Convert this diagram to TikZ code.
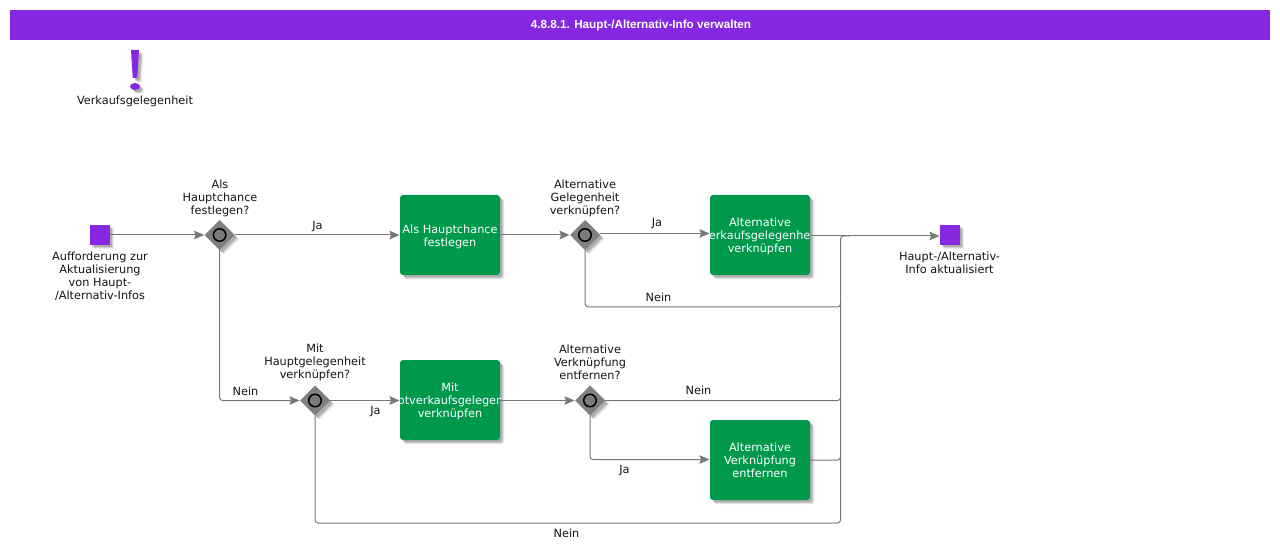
\documentclass[tikz,border=0pt]{standalone}
\usepackage{fontspec}
\setmainfont{DejaVu Sans}
\newfontfamily\titlefont{Liberation Sans}
\usetikzlibrary{arrows.meta,shapes.geometric,shadows}
\definecolor{bpurple}{RGB}{134,40,226}
\definecolor{bgreen}{RGB}{0,153,76}
\definecolor{bline}{RGB}{120,120,120}
\definecolor{bgate}{RGB}{128,128,128}
\definecolor{btext}{RGB}{20,20,20}
\tikzset{
  softshadow/.style={
    general shadow={shadow xshift=4.4pt,shadow yshift=-4.4pt,fill=black,opacity=.07},
    general shadow={shadow xshift=3.4pt,shadow yshift=-3.4pt,fill=black,opacity=.12},
    general shadow={shadow xshift=2.4pt,shadow yshift=-2.4pt,fill=black,opacity=.16}},
  txt/.style={font=\fontsize{11.3}{13}\selectfont,align=center,inner sep=0pt,text=btext},
  eventbox/.style={rectangle,fill=bpurple,minimum width=20pt,minimum height=20pt,inner sep=0pt,outer sep=0pt,softshadow},
  taskbox/.style 2 args={rectangle,rounded corners=3pt,fill=bgreen,minimum width=100pt,minimum height=80pt,inner sep=0pt,outer sep=0pt,softshadow,
    path picture={\node[txt,text=white,yshift=#1] at (path picture bounding box.center) {#2};}},
  gatebox/.style={diamond,fill=bgate,minimum width=30pt,minimum height=30pt,inner sep=0pt,outer sep=0pt,softshadow},
  gatering/.style={circle,draw=black,line width=1.5pt,fill=bgate!105,minimum size=12.5pt,inner sep=0pt},
  flow/.style={draw=bline,line width=1pt,-{Stealth[length=10pt,width=8.5pt,inset=1.5pt]},shorten >=.5pt},
  plain/.style={draw=bline,line width=1pt,rounded corners=3pt},
}
\begin{document}
\begin{tikzpicture}[x=1pt,y=-1pt]
\useasboundingbox (0,0) rectangle (1280,553);
\fill[white] (0,0) rectangle (1280,553);
% title
\node[rectangle,fill=bpurple,minimum width=1260pt,minimum height=30pt,inner sep=0pt,text=white,font=\fontsize{11.7}{13}\titlefont\bfseries] (title) at (640,25) {\hspace{2pt}4.8.8.1. Haupt-/Alternativ-Info verwalten};
% exclamation mark
\path[fill=bpurple,softshadow] (131,50) -- (139,50) -- (137.2,78) -- (132.8,78) -- cycle;
\path[fill=bpurple,softshadow] (135,86.5) ellipse [x radius=5,y radius=3.5];
\node[txt] (goal) at (135,101) {Verkaufsgelegenheit};
% events
\node[eventbox] (start) at (100,235) {};
\node[eventbox] (end) at (950,235) {};
% gateways
\node[gatebox] (d1) at (219.6,235) {};
\node[gatebox] (d2) at (585,235) {};
\node[gatebox] (d3) at (315,400.5) {};
\node[gatebox] (d4) at (590,400.5) {};
\node[gatering] (r1) at (d1) {};
\node[gatering] (r2) at (d2) {};
\node[gatering] (r3) at (d3) {};
\node[gatering] (r4) at (d4) {};
% tasks
\node[taskbox={-2.2pt}{Als Hauptchance\\festlegen}] (t1) at (450,235) {};
\node[taskbox={-1.2pt}{Alternative\\Verkaufsgelegenheit\\verknüpfen}] (t2) at (760,235) {};
\node[taskbox={-1.2pt}{Mit\\Hauptverkaufsgelegenheit\\verknüpfen}] (t3) at (450,400) {};
\node[taskbox={-.3pt}{Alternative\\Verknüpfung\\entfernen}] (t4) at (760,460) {};
% bus coordinates
\coordinate (busA) at (840.5,307);
\coordinate (busB) at (840.5,400.5);
\coordinate (busC) at (840.5,460);
\coordinate (busD) at (840.5,523);
\coordinate (busEnd) at (850,236);
\coordinate (lowB) at (590,459.5);
% connectors
\draw[flow] (start) -- (d1);
\draw[flow] (d1) -- (t1);
\draw[flow] (t1) -- (d2);
\draw[flow] ([yshift=1.5pt]d2.east) -- ([yshift=1.5pt]t2.west);
\draw[flow] ([yshift=-1pt]t2.east) -- ([yshift=-1pt]end.west);
\draw[flow,rounded corners=3pt] (d1.south) |- (d3.west);
\draw[flow] (d3) -- (t3.west|-d3);
\draw[flow] (t3.east|-d4) -- (d4);
\draw[flow,rounded corners=3pt] (d4.south) |- (t4.west|-lowB);
\draw[plain] (d4.east) -- (busB) -- ++(0,-6);
\draw[plain] (t4.east) -- (busC) -- ++(0,-6);
\draw[plain] (d2.south) |- (busA) -- ++(0,-6);
\draw[plain] (d3.south) |- (busD) |- (busEnd);
% labels
\node[txt] (ls) at (100,276) {Aufforderung zur\\Aktualisierung\\von Haupt-\\/Alternativ-Infos};
\node[txt] (le) at (949.5,262.5) {Haupt-/Alternativ-\\Info aktualisiert};
\node[txt] (l1) at (220,198) {Als\\Hauptchance\\festlegen?};
\node[txt] (l2) at (585,198) {Alternative\\Gelegenheit\\verknüpfen?};
\node[txt] (l3) at (315,362) {Mit\\Hauptgelegenheit\\verknüpfen?};
\node[txt] (l4) at (590,362.5) {Alternative\\Verknüpfung\\entfernen?};
\node[txt] (e1) at (317.5,227) {Ja};
\node[txt] (e2) at (657,224) {Ja};
\node[txt] (e3) at (658.5,297.3) {Nein};
\node[txt] (e4) at (245.5,391.3) {Nein};
\node[txt] (e5) at (375.5,412) {Ja};
\node[txt] (e6) at (698.5,390.3) {Nein};
\node[txt] (e7) at (624.5,471) {Ja};
\node[txt] (e8) at (566.5,533.3) {Nein};
\end{tikzpicture}
\end{document}
